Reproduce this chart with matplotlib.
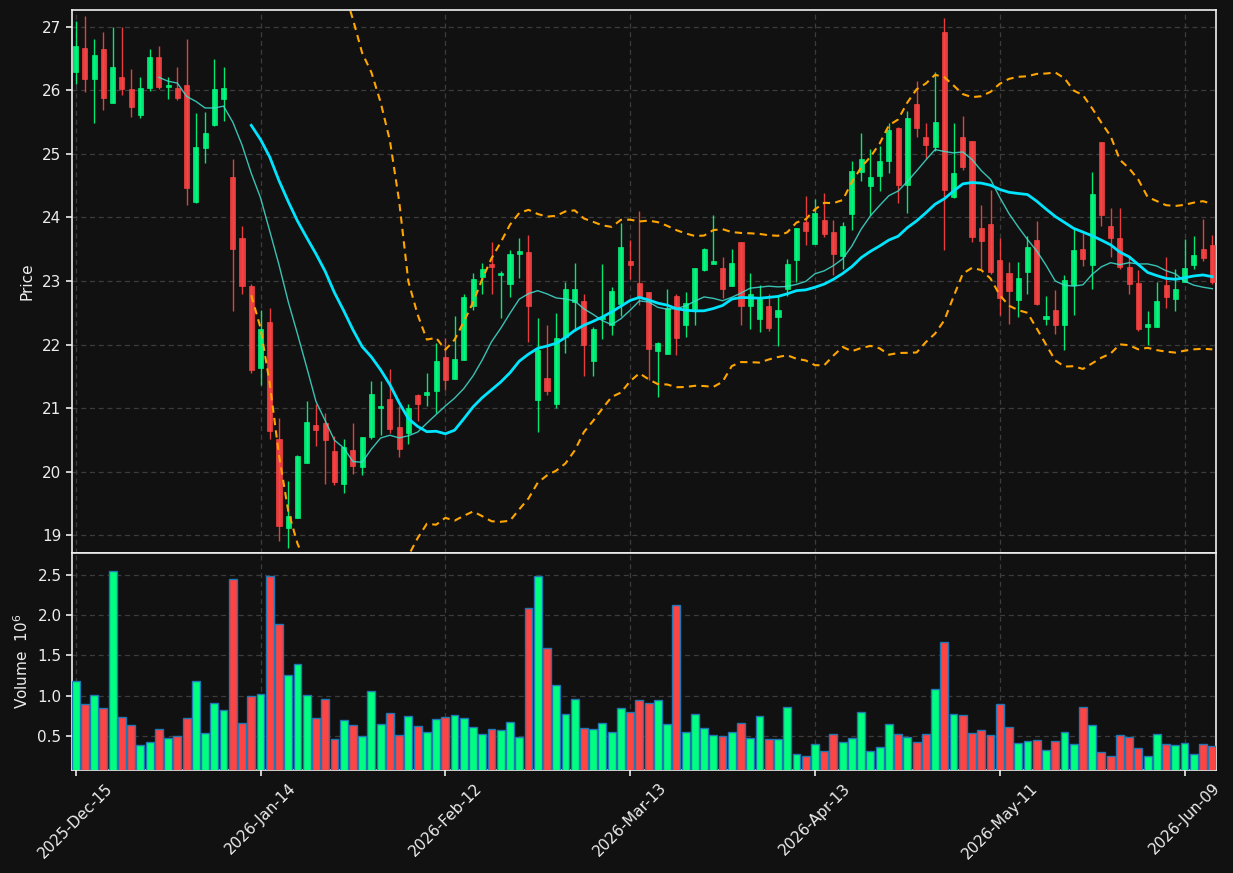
import numpy as np
import pandas as pd
import matplotlib
matplotlib.use("Agg")
import matplotlib.pyplot as plt

# ---------------- data ----------------
opens = [26.28, 26.66, 26.17, 26.64, 25.80, 26.20, 26.02, 25.61, 26.04, 26.52,
         26.05, 26.03, 26.08, 24.24, 25.09, 25.45, 25.86, 24.64, 23.67, 22.92,
         21.63, 22.35, 20.51, 19.12, 19.28, 20.14, 20.74, 20.77, 20.32, 19.81,
         20.34, 20.08, 20.54, 21.01, 21.14, 20.70, 20.61, 21.20, 21.21, 21.27,
         21.80, 21.46, 21.76, 22.60, 23.06, 23.26, 23.10, 22.96, 23.43, 23.45,
         21.13, 21.47, 21.07, 22.12, 22.67, 22.68, 21.74, 22.40, 22.30, 22.63,
         23.31, 22.97, 22.83, 21.90, 21.85, 22.76, 22.31, 22.56, 23.17, 23.27,
         23.20, 22.92, 23.62, 22.60, 22.40, 22.60, 22.44, 22.87, 23.33, 23.92,
         23.58, 23.96, 23.77, 23.40, 24.05, 24.71, 24.50, 24.65, 24.89, 25.40,
         24.51, 25.79, 25.26, 25.11, 26.91, 24.32, 25.26, 25.20, 23.83, 23.89,
         23.33, 23.12, 22.70, 23.14, 23.64, 22.40, 22.54, 22.31, 22.94, 23.51,
         23.25, 25.18, 23.86, 23.67, 23.22, 22.97, 22.28, 22.27, 22.93, 22.71,
         22.99, 23.25, 23.51, 23.56]
highs = [27.08, 27.16, 26.80, 26.91, 27.00, 27.00, 26.33, 26.20, 26.64, 26.70,
         26.20, 26.37, 26.81, 25.64, 25.66, 26.49, 26.36, 24.91, 23.86, 22.96,
         22.55, 22.57, 20.84, 19.86, 20.26, 21.12, 21.07, 20.93, 20.56, 20.51,
         20.77, 20.54, 21.42, 21.43, 21.61, 21.03, 21.07, 21.23, 21.56, 22.02,
         22.11, 22.45, 22.80, 23.12, 23.28, 23.61, 23.16, 23.49, 23.68, 23.73,
         22.42, 22.30, 22.50, 22.99, 23.29, 22.79, 22.28, 23.26, 22.90, 23.91,
         23.65, 24.10, 22.83, 22.04, 22.87, 22.79, 22.82, 23.21, 23.52, 24.03,
         23.37, 23.50, 23.62, 23.13, 22.93, 22.79, 22.76, 23.34, 23.83, 24.33,
         24.29, 24.39, 23.96, 23.93, 24.89, 25.32, 25.07, 25.13, 25.48, 25.42,
         25.67, 26.14, 25.49, 26.28, 27.13, 25.48, 25.60, 25.20, 24.19, 24.43,
         23.68, 23.30, 23.30, 23.71, 23.95, 22.77, 22.86, 23.10, 23.84, 23.76,
         24.71, 25.18, 24.14, 24.15, 23.37, 23.17, 22.53, 22.99, 23.37, 23.19,
         23.66, 23.71, 23.98, 23.73]
lows = [26.10, 25.97, 25.48, 25.69, 25.80, 25.92, 25.58, 25.56, 25.99, 26.02,
        25.86, 25.85, 24.20, 24.22, 24.85, 25.44, 25.52, 22.52, 22.79, 21.55,
        21.36, 20.51, 18.91, 18.80, 19.27, 20.14, 20.40, 19.80, 19.79, 19.67,
        19.96, 19.95, 20.52, 20.58, 20.61, 20.23, 20.44, 20.80, 21.03, 20.92,
        21.29, 21.46, 21.76, 22.55, 22.79, 22.80, 22.41, 22.75, 23.04, 22.04,
        20.62, 21.21, 21.00, 21.87, 22.22, 21.50, 21.50, 22.09, 22.15, 22.45,
        23.03, 22.62, 21.45, 21.17, 21.85, 21.84, 22.12, 22.30, 23.16, 23.27,
        22.73, 22.92, 22.31, 22.25, 22.19, 22.22, 21.97, 22.76, 22.99, 23.56,
        23.58, 23.69, 23.10, 23.19, 23.80, 24.57, 24.04, 24.42, 24.70, 24.22,
        24.07, 25.27, 24.93, 25.05, 23.48, 24.30, 24.74, 23.61, 23.19, 23.11,
        22.46, 22.32, 22.43, 22.79, 22.62, 22.30, 22.17, 21.92, 22.46, 23.24,
        22.87, 23.86, 23.37, 23.19, 22.79, 22.22, 22.00, 22.27, 22.58, 22.52,
        22.99, 23.19, 23.32, 22.95]
closes = [26.69, 26.17, 26.56, 25.88, 26.36, 26.02, 25.74, 26.03, 26.52, 26.05,
          26.08, 25.88, 24.46, 25.10, 25.32, 26.02, 26.03, 23.51, 22.92, 21.60,
          22.24, 20.64, 19.15, 19.30, 20.25, 20.78, 20.66, 20.50, 19.84, 20.39,
          20.09, 20.54, 21.22, 21.04, 20.68, 20.36, 21.00, 21.07, 21.25, 21.74,
          21.44, 21.77, 22.74, 23.03, 23.19, 23.22, 23.12, 23.42, 23.47, 22.60,
          21.91, 21.27, 22.10, 22.87, 22.87, 21.99, 22.24, 22.44, 22.84, 23.53,
          23.25, 22.74, 21.93, 22.02, 22.57, 22.10, 22.65, 23.20, 23.50, 23.31,
          22.87, 23.28, 22.60, 22.79, 22.72, 22.26, 22.54, 23.26, 23.83, 23.78,
          24.07, 23.74, 23.42, 23.86, 24.73, 24.91, 24.64, 24.89, 25.37, 24.51,
          25.56, 25.41, 25.14, 25.50, 24.43, 24.69, 24.79, 23.69, 23.63, 23.14,
          22.73, 22.85, 23.04, 23.53, 22.64, 22.45, 22.31, 23.01, 23.49, 23.35,
          24.37, 24.04, 23.68, 23.22, 22.95, 22.25, 22.32, 22.68, 22.75, 22.87,
          23.21, 23.41, 23.36, 22.98]
volumes_m = [1.188, 0.898, 1.011, 0.848, 2.546, 0.735, 0.634, 0.383, 0.420, 0.584,
             0.475, 0.496, 0.722, 1.188, 0.534, 0.911, 0.823, 2.445, 0.659, 0.991,
             1.024, 2.487, 1.892, 1.263, 1.389, 1.011, 0.722, 0.961, 0.458, 0.697,
             0.634, 0.496, 1.062, 0.647, 0.785, 0.508, 0.747, 0.622, 0.546, 0.710,
             0.735, 0.760, 0.722, 0.609, 0.521, 0.584, 0.571, 0.672, 0.483, 2.093,
             2.487, 1.590, 1.137, 0.773, 0.961, 0.596, 0.584, 0.659, 0.546, 0.848,
             0.798, 0.949, 0.911, 0.949, 0.647, 2.131, 0.546, 0.773, 0.596, 0.508,
             0.496, 0.546, 0.659, 0.471, 0.747, 0.458, 0.458, 0.861, 0.269, 0.244,
             0.395, 0.307, 0.521, 0.420, 0.471, 0.798, 0.307, 0.357, 0.647, 0.521,
             0.483, 0.420, 0.521, 1.087, 1.666, 0.773, 0.760, 0.534, 0.571, 0.508,
             0.898, 0.609, 0.408, 0.433, 0.445, 0.320, 0.433, 0.546, 0.395, 0.861,
             0.634, 0.295, 0.244, 0.508, 0.483, 0.345, 0.244, 0.521, 0.395, 0.383,
             0.408, 0.269, 0.395, 0.370]
tick_labels = ["2025-Dec-15", "2026-Jan-14", "2026-Feb-12", "2026-Mar-13",
               "2026-Apr-13", "2026-May-11", "2026-Jun-09"]
tick_index = [0, 20, 40, 60, 80, 100, 120]
mav_windows = [10, 20]
bb_window = 20

# ---------------- style ----------------
BG = "#111111"
UP = "#00ff80"
DOWN = "#ff4444"
GRID = "#3c3c3c"
TXT = "#ededed"

df = pd.DataFrame({"Open": opens, "High": highs, "Low": lows,
                   "Close": closes, "Volume": volumes_m})
x = np.arange(len(df))
up = df["Close"] >= df["Open"]
colors = np.where(up, UP, DOWN)

fig = plt.figure(figsize=(12.33, 8.73), dpi=100, facecolor=BG)
ax = fig.add_axes([0.0584, 0.3671, 0.9278, 0.6214], facecolor=BG)
axv = fig.add_axes([0.0584, 0.1180, 0.9278, 0.2491], facecolor=BG, sharex=ax)

# candles
ax.vlines(x, df["Low"], df["High"], colors=colors, linewidth=1.0, alpha=0.9, zorder=3)
body_bottom = np.minimum(df["Open"], df["Close"])
body_height = np.maximum(np.abs(df["Close"] - df["Open"]), 0.02)
ax.bar(x, body_height, bottom=body_bottom, width=0.55, color=colors,
       edgecolor=colors, linewidth=0.5, alpha=0.9, zorder=4)

# moving averages & bollinger bands
ma10 = df["Close"].rolling(mav_windows[0]).mean()
ma20 = df["Close"].rolling(mav_windows[1]).mean()
std20 = df["Close"].rolling(bb_window).std()
ax.plot(x, ma10, color="#40e0d0", linewidth=1.0, alpha=0.85, zorder=5)
ax.plot(x, ma20, color="#00e5ff", linewidth=2.0, zorder=5)
ax.plot(x, ma20 + 2 * std20, color="#ffa500", linewidth=1.5, linestyle=(0, (3.5, 2.5)), zorder=5)
ax.plot(x, ma20 - 2 * std20, color="#ffa500", linewidth=1.5, linestyle=(0, (3.5, 2.5)), zorder=5)

# volume
axv.bar(x, df["Volume"], width=0.85, color=colors, edgecolor="#1f77b4",
        linewidth=1.0, zorder=3)

# axes formatting
ax.set_xlim(-0.4, 123.4)
ax.set_ylim(18.73, 27.26)
axv.set_ylim(0.076, 2.78)
ax.set_yticks([19, 20, 21, 22, 23, 24, 25, 26, 27])
axv.set_yticks([0.5, 1.0, 1.5, 2.0, 2.5])
axv.set_yticklabels(["0.5", "1.0", "1.5", "2.0", "2.5"])
axv.set_xticks(tick_index)
axv.set_xticklabels(tick_labels, rotation=45)
plt.setp(ax.get_xticklabels(), visible=False)
ax.tick_params(axis="x", length=0)

for a in (ax, axv):
    for s in a.spines.values():
        s.set_color("#f0f0f0")
        s.set_linewidth(1.2)
    a.tick_params(colors=TXT, labelsize=11, width=1.2, length=4)
    a.grid(True, color=GRID, linestyle=(0, (4, 3)), linewidth=0.9, zorder=0)
    a.set_axisbelow(True)

ax.set_ylabel("Price", color=TXT, fontsize=11)
axv.set_ylabel("Volume  $10^{6}$", color=TXT, fontsize=11)
ax.yaxis.set_label_coords(-0.033, 0.5)
axv.yaxis.set_label_coords(-0.036, 0.5)

fig.savefig("out.png", dpi=100, facecolor=BG)
